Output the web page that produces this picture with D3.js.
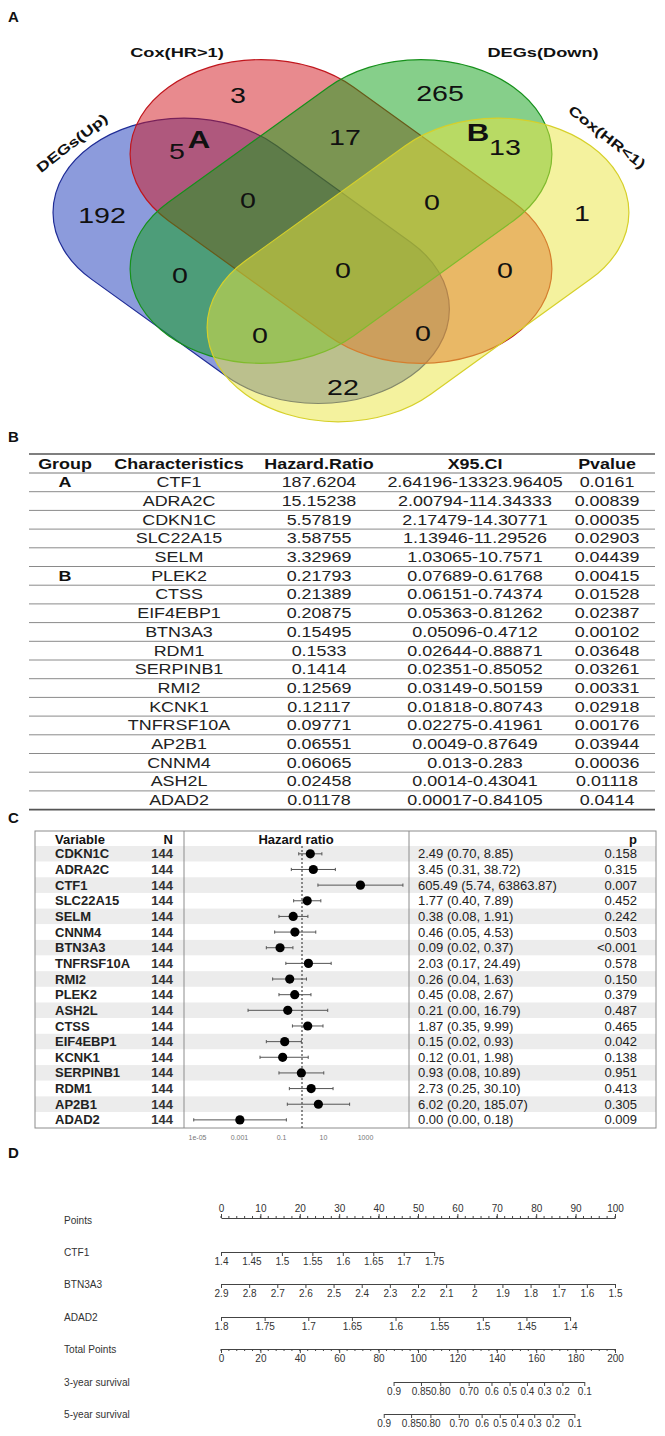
<!DOCTYPE html>
<html>
<head>
<meta charset="utf-8">
<script src="https://cdn.jsdelivr.net/npm/d3@7"></script>
<style>
body { margin: 0; background: #fff; }
text { font-family: "Liberation Sans", Arial, sans-serif; }
</style>
</head>
<body>
<script>
// ---- A: venn counts
var vennSets = ["DEGs(Up)", "Cox(HR>1)", "DEGs(Down)", "Cox(HR<1)"];
var vennRegions = ["A", "B", "C", "D", "AB", "BC", "CD", "AC", "ABC", "BCD", "BD", "ABCD", "ACD", "ABD", "AD"];
var vennCounts = [192, 3, 265, 1, 5, 17, 13, 0, 0, 0, 0, 0, 0, 0, 22];

// ---- B: table
var tblGroup = ["A", "", "", "", "", "B", "", "", "", "", "", "", "", "", "", "", "", ""];
var tblGene = ["CTF1", "ADRA2C", "CDKN1C", "SLC22A15", "SELM", "PLEK2", "CTSS", "EIF4EBP1", "BTN3A3",
  "RDM1", "SERPINB1", "RMI2", "KCNK1", "TNFRSF10A", "AP2B1", "CNNM4", "ASH2L", "ADAD2"];
var tblHR = ["187.6204", "15.15238", "5.57819", "3.58755", "3.32969", "0.21793", "0.21389", "0.20875", "0.15495",
  "0.1533", "0.1414", "0.12569", "0.12117", "0.09771", "0.06551", "0.06065", "0.02458", "0.01178"];
var tblCI = ["2.64196-13323.96405", "2.00794-114.34333", "2.17479-14.30771", "1.13946-11.29526", "1.03065-10.7571",
  "0.07689-0.61768", "0.06151-0.74374", "0.05363-0.81262", "0.05096-0.4712", "0.02644-0.88871", "0.02351-0.85052",
  "0.03149-0.50159", "0.01818-0.80743", "0.02275-0.41961", "0.0049-0.87649", "0.013-0.283", "0.0014-0.43041",
  "0.00017-0.84105"];
var tblP = ["0.0161", "0.00839", "0.00035", "0.02903", "0.04439", "0.00415", "0.01528", "0.02387", "0.00102",
  "0.03648", "0.03261", "0.00331", "0.02918", "0.00176", "0.03944", "0.00036", "0.01118", "0.0414"];

// ---- C: forest plot
var fpGene = ["CDKN1C", "ADRA2C", "CTF1", "SLC22A15", "SELM", "CNNM4", "BTN3A3", "TNFRSF10A", "RMI2",
  "PLEK2", "ASH2L", "CTSS", "EIF4EBP1", "KCNK1", "SERPINB1", "RDM1", "AP2B1", "ADAD2"];
var fpN = [144, 144, 144, 144, 144, 144, 144, 144, 144, 144, 144, 144, 144, 144, 144, 144, 144, 144];
var fpHR = [2.49, 3.45, 605.49, 1.77, 0.38, 0.46, 0.09, 2.03, 0.26, 0.45, 0.21, 1.87, 0.15, 0.12, 0.93, 2.73, 6.02, 0.0011];
var fpLo = [0.70, 0.31, 5.74, 0.40, 0.08, 0.05, 0.02, 0.17, 0.04, 0.08, 0.0027, 0.35, 0.02, 0.01, 0.08, 0.25, 0.20, 0.000007];
var fpHi = [8.85, 38.72, 63863.87, 7.89, 1.91, 4.53, 0.37, 24.49, 1.63, 2.67, 16.79, 9.99, 0.93, 1.98, 10.89, 30.10, 185.07, 0.18];
var fpText = ["2.49 (0.70, 8.85)", "3.45 (0.31, 38.72)", "605.49 (5.74, 63863.87)", "1.77 (0.40, 7.89)",
  "0.38 (0.08, 1.91)", "0.46 (0.05, 4.53)", "0.09 (0.02, 0.37)", "2.03 (0.17, 24.49)", "0.26 (0.04, 1.63)",
  "0.45 (0.08, 2.67)", "0.21 (0.00, 16.79)", "1.87 (0.35, 9.99)", "0.15 (0.02, 0.93)", "0.12 (0.01, 1.98)",
  "0.93 (0.08, 10.89)", "2.73 (0.25, 30.10)", "6.02 (0.20, 185.07)", "0.00 (0.00, 0.18)"];
var fpP = ["0.158", "0.315", "0.007", "0.452", "0.242", "0.503", "<0.001", "0.578", "0.150",
  "0.379", "0.487", "0.465", "0.042", "0.138", "0.951", "0.413", "0.305", "0.009"];
var fpTicks = [1e-5, 1e-3, 1e-1, 10, 1000];
var fpTickLabels = ["1e-05", "0.001", "0.1", "10", "1000"];

// ---- D: nomogram
var nomoRows = ["Points", "CTF1", "BTN3A3", "ADAD2", "Total Points", "3-year survival", "5-year survival"];
var pointsTicks = [0, 10, 20, 30, 40, 50, 60, 70, 80, 90, 100];
var ctf1Ticks = [1.4, 1.45, 1.5, 1.55, 1.6, 1.65, 1.7, 1.75];
var ctf1Points = [0, 54.1];
var btn3a3Ticks = [2.9, 2.8, 2.7, 2.6, 2.5, 2.4, 2.3, 2.2, 2.1, 2, 1.9, 1.8, 1.7, 1.6, 1.5];
var btn3a3Points = [0, 100];
var adad2Ticks = [1.8, 1.75, 1.7, 1.65, 1.6, 1.55, 1.5, 1.45, 1.4];
var adad2Points = [0, 88.6];
var totalTicks = [0, 20, 40, 60, 80, 100, 120, 140, 160, 180, 200];
var survLabels = ["0.9", "0.85", "0.80", "0.70", "0.6", "0.5", "0.4", "0.3", "0.2", "0.1"];
var surv3Total = [87.6, 101.5, 111.3, 125.7, 137.3, 146.5, 155.3, 164, 173.3, 184.4];
var surv5Total = [82.6, 96.5, 106.3, 120.7, 132.3, 141.5, 150.3, 159, 168.3, 179.4];

var svg = d3.select("body").append("svg").attr("width", 665).attr("height", 1436);

function label(g, x, y, s, o) {
  o = o || {};
  var tr = "translate(" + x + "," + y + ")";
  if (o.rot) tr += " rotate(" + o.rot + ")";
  if (o.sx) tr += " scale(" + o.sx + ",1)";
  return g.append("text")
    .attr("transform", tr)
    .attr("text-anchor", o.anchor || "middle")
    .attr("dy", "0.35em")
    .style("font-size", (o.size || 12) + "px")
    .style("font-weight", o.weight || "normal")
    .style("fill", o.fill || "#111")
    .text(s);
}

// panel letters
[["A", 17], ["B", 437], ["C", 818], ["D", 1153]].forEach(function(p) {
  label(svg, 8, p[1], p[0], {anchor: "start", size: 15, weight: "bold"});
});

// ================= A : Venn =================
var vennR = 131;
// centre u, centre v, rotation, half distance between the end caps
var vennShape = [[-89.8, 15, 45, 95], [0, -53.5, 45, 113], [0, -53.5, -45, 113], [77, 27.7, -45, 113]];
var vennFill = ["#1937b9", "#d1151d", "#0d9f15", "#e9e53d"];
var vennLine = ["#1f2c96", "#c0161d", "#16901b", "#d6d02a"];
var venn = svg.append("g").attr("transform", "translate(341,250) scale(1,0.72)");
venn.selectAll("rect").data(vennSets).join("rect")
  .attr("transform", function(d, i) {
    return "translate(" + vennShape[i][0] + "," + vennShape[i][1] + ") rotate(" + vennShape[i][2] + ")";
  })
  .attr("x", function(d, i) { return -(vennR + vennShape[i][3]); }).attr("y", -vennR)
  .attr("width", function(d, i) { return 2 * (vennR + vennShape[i][3]); }).attr("height", 2 * vennR)
  .attr("rx", vennR).attr("ry", vennR)
  .attr("fill", function(d, i) { return vennFill[i]; })
  .attr("fill-opacity", 0.5)
  .attr("stroke", function(d, i) { return vennLine[i]; })
  .attr("stroke-width", 1.2)
  .attr("vector-effect", "non-scaling-stroke");

var vennPos = {A: [102, 215], B: [238, 95], C: [440, 93], D: [582, 213], AB: [177, 151], BC: [345, 137],
  CD: [505, 147], AC: [180, 275], ABC: [248, 200], BCD: [432, 202], BD: [505, 270], ABCD: [343, 270],
  ACD: [260, 335], ABD: [423, 333], AD: [343, 387]};
var vg = svg.append("g");
vennRegions.forEach(function(r, i) {
  label(vg, vennPos[r][0], vennPos[r][1], vennCounts[i], {size: 22, sx: 1.3});
});
label(vg, 199, 140, "A", {size: 24, sx: 1.3, weight: 600});
label(vg, 478, 133, "B", {size: 24, sx: 1.3, weight: 600});

var setPos = [[72, 143, -38], [177, 52, 0], [543, 52, 0], [607, 137, 38]];
vennSets.forEach(function(s, i) {
  label(vg, setPos[i][0], setPos[i][1], s, {size: 13.5, sx: 1.35, weight: "bold", rot: setPos[i][2]});
});

// ================= B : table =================
var tb = svg.append("g");
var tLeft = 29, tRight = 655, tTop = 454, hdrBot = 473, rowH = 18.7;
var colX = [65, 179, 319, 475, 607];
var hdr = ["Group", "Characteristics", "Hazard.Ratio", "X95.CI", "Pvalue"];
var tsx = 1.28;
hdr.forEach(function(h, i) {
  label(tb, colX[i], 464, h, {size: 14, weight: "bold", sx: tsx});
});
tb.append("line").attr("x1", tLeft).attr("x2", tRight).attr("y1", tTop).attr("y2", tTop)
  .attr("stroke", "#555").attr("stroke-width", 1.6);
tb.append("line").attr("x1", tLeft).attr("x2", tRight).attr("y1", hdrBot).attr("y2", hdrBot)
  .attr("stroke", "#777").attr("stroke-width", 1);
tblGene.forEach(function(g, i) {
  var yc = hdrBot + rowH * (i + 0.5);
  if (tblGroup[i]) label(tb, colX[0], yc, tblGroup[i], {size: 14, weight: "bold", sx: tsx});
  label(tb, colX[1], yc, g, {size: 14, sx: tsx, fill: "#222"});
  label(tb, colX[2], yc, tblHR[i], {size: 14, sx: tsx, fill: "#222"});
  label(tb, colX[3], yc, tblCI[i], {size: 14, sx: tsx, fill: "#222"});
  label(tb, colX[4], yc, tblP[i], {size: 14, sx: tsx, fill: "#222"});
  var yl = hdrBot + rowH * (i + 1);
  var last = i === tblGene.length - 1;
  tb.append("line").attr("x1", tLeft).attr("x2", tRight).attr("y1", yl).attr("y2", yl)
    .attr("stroke", last ? "#555" : "#8a8a8a").attr("stroke-width", last ? 1.6 : 1);
});

// ================= C : forest =================
var fp = svg.append("g");
var fBox = {x0: 35, x1: 656, y0: 831, y1: 1128}, fHdr = 846, fRow = 15.65;
var fx = d3.scaleLog().domain([1e-5, 1e3]).range([197, 365]);
fp.selectAll("rect.band").data(fpGene).join("rect").attr("class", "band")
  .attr("x", fBox.x0).attr("width", fBox.x1 - fBox.x0)
  .attr("y", function(d, i) { return fHdr + i * fRow; }).attr("height", fRow)
  .attr("fill", function(d, i) { return i % 2 === 0 ? "#ececec" : "#fff"; });
fp.append("rect").attr("x", fBox.x0).attr("y", fBox.y0)
  .attr("width", fBox.x1 - fBox.x0).attr("height", fBox.y1 - fBox.y0)
  .attr("fill", "none").attr("stroke", "#8c8c8c");
[184, 409].forEach(function(x) {
  fp.append("line").attr("x1", x).attr("x2", x).attr("y1", fBox.y0).attr("y2", fBox.y1)
    .attr("stroke", "#8c8c8c");
});
label(fp, 55, 839, "Variable", {anchor: "start", size: 13, weight: "bold"});
label(fp, 173, 839, "N", {anchor: "end", size: 13, weight: "bold"});
label(fp, 296, 839, "Hazard ratio", {size: 13, weight: "bold"});
label(fp, 637, 839, "p", {anchor: "end", size: 13, weight: "bold"});
fp.append("line").attr("x1", fx(1)).attr("x2", fx(1)).attr("y1", fHdr).attr("y2", fBox.y1)
  .attr("stroke", "#222").attr("stroke-dasharray", "2,2");
fpGene.forEach(function(g, i) {
  var yc = fHdr + fRow * (i + 0.5);
  label(fp, 55, yc, g, {anchor: "start", size: 13, weight: "bold", fill: "#222"});
  label(fp, 173, yc, fpN[i], {anchor: "end", size: 13, weight: "bold", fill: "#333"});
  label(fp, 418, yc, fpText[i], {anchor: "start", size: 13, fill: "#222"});
  label(fp, 637, yc, fpP[i], {anchor: "end", size: 13, fill: "#222"});
  fp.append("line").attr("x1", fx(fpLo[i])).attr("x2", fx(fpHi[i])).attr("y1", yc).attr("y2", yc)
    .attr("stroke", "#555");
  [fpLo[i], fpHi[i]].forEach(function(v) {
    fp.append("line").attr("x1", fx(v)).attr("x2", fx(v)).attr("y1", yc - 1.6).attr("y2", yc + 1.6)
      .attr("stroke", "#555");
  });
  fp.append("circle").attr("cx", fx(fpHR[i])).attr("cy", yc).attr("r", 4.6).attr("fill", "#000");
});
var fAxis = fp.append("g").attr("transform", "translate(0," + (fBox.y1 + 4) + ")")
  .call(d3.axisBottom(fx).tickValues(fpTicks).tickFormat(function(d, i) { return fpTickLabels[i]; }).tickSize(0));
fAxis.select(".domain").remove();
fAxis.selectAll("text").style("font-size", "7px").style("fill", "#777")
  .style("font-family", '"Liberation Sans", Arial, sans-serif');

// ================= D : nomogram =================
var nm = svg.append("g");
var ptsX = d3.scaleLinear().domain([0, 100]).range([221, 615]);
var totX = d3.scaleLinear().domain([0, 200]).range([221, 615]);
var nomoY = [1218, 1252, 1284, 1317, 1349, 1382, 1414];
nomoRows.forEach(function(r, i) {
  label(nm, 64, nomoY[i] + (i === 0 ? 2 : 0), r, {anchor: "start", size: 11.5, sx: 0.88, fill: "#333"});
});

function styleAxis(g) {
  g.selectAll("path, line").attr("stroke", "#444");
  g.selectAll("text").style("font-size", "10px").style("fill", "#333")
    .style("font-family", '"Liberation Sans", Arial, sans-serif');
}
function minor(g, scale, vals, len) {
  g.append("g").selectAll("line").data(vals).join("line")
    .attr("x1", scale).attr("x2", scale).attr("y1", 0).attr("y2", len)
    .attr("stroke", "#444");
}
var fmt = function(d) { return String(+d.toFixed(2)); };

var gPts = nm.append("g").attr("transform", "translate(0," + nomoY[0] + ")")
  .call(d3.axisTop(ptsX).tickValues(pointsTicks).tickSize(4).tickSizeOuter(0).tickPadding(2));
minor(gPts, ptsX, d3.range(0, 101, 2), -2);
styleAxis(gPts);

function varAxis(y, ticks, pts) {
  var s = d3.scaleLinear().domain([ticks[0], ticks[ticks.length - 1]]).range([ptsX(pts[0]), ptsX(pts[1])]);
  var g = nm.append("g").attr("transform", "translate(0," + y + ")")
    .call(d3.axisBottom(s).tickValues(ticks).tickFormat(fmt).tickSize(4).tickSizeOuter(0).tickPadding(2));
  styleAxis(g);
}
varAxis(nomoY[1], ctf1Ticks, ctf1Points);
varAxis(nomoY[2], btn3a3Ticks, btn3a3Points);
varAxis(nomoY[3], adad2Ticks, adad2Points);

var gTot = nm.append("g").attr("transform", "translate(0," + nomoY[4] + ")")
  .call(d3.axisBottom(totX).tickValues(totalTicks).tickSize(4).tickSizeOuter(0).tickPadding(2));
minor(gTot, totX, d3.range(0, 201, 4), 2);
styleAxis(gTot);

function survAxis(y, tot) {
  var ext = d3.extent(tot);
  var s = d3.scaleLinear().domain(ext).range(ext.map(totX));
  var g = nm.append("g").attr("transform", "translate(0," + y + ")")
    .call(d3.axisBottom(s).tickValues(tot).tickFormat(function(d, i) { return survLabels[i]; })
      .tickSize(4).tickSizeOuter(0).tickPadding(2));
  styleAxis(g);
}
survAxis(nomoY[5], surv3Total);
survAxis(nomoY[6], surv5Total);
</script>
</body>
</html>
